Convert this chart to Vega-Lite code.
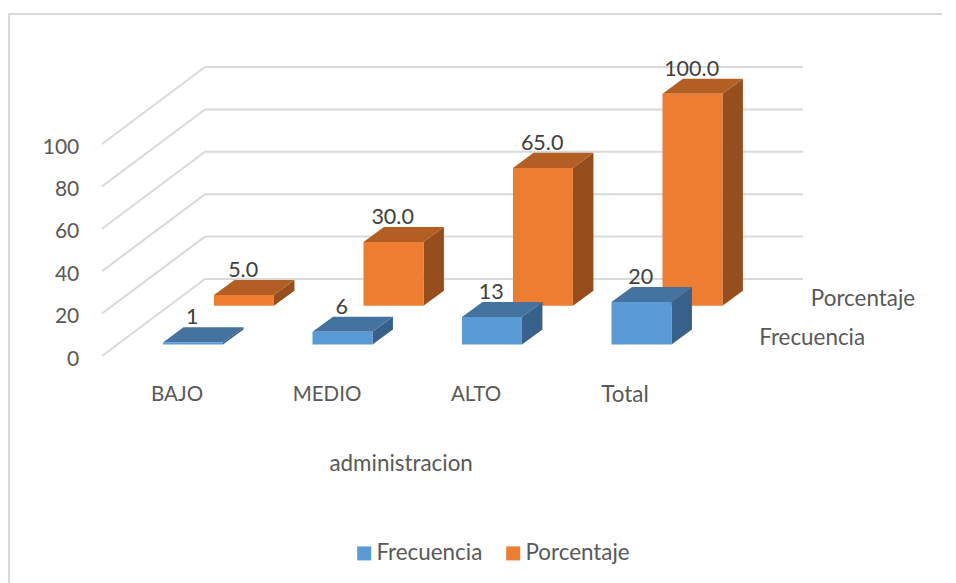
{
  "$schema": "https://vega.github.io/schema/vega-lite/v6.json",
  "width": 956,
  "height": 583,
  "autosize": {"type": "none"},
  "padding": 0,
  "background": "white",
  "view": {"stroke": null},
  "config": {"font": "Lato", "text": {"font": "Lato"}},
  "datasets": {
    "bars": [
      {"categoria": "BAJO", "idx": 0, "serie": "Frecuencia", "z": 0, "valor": 1, "rotulo": "1"},
      {"categoria": "MEDIO", "idx": 1, "serie": "Frecuencia", "z": 0, "valor": 6, "rotulo": "6"},
      {"categoria": "ALTO", "idx": 2, "serie": "Frecuencia", "z": 0, "valor": 13, "rotulo": "13"},
      {"categoria": "Total", "idx": 3, "serie": "Frecuencia", "z": 0, "valor": 20, "rotulo": "20"},
      {"categoria": "BAJO", "idx": 0, "serie": "Porcentaje", "z": 1, "valor": 5, "rotulo": "5.0"},
      {"categoria": "MEDIO", "idx": 1, "serie": "Porcentaje", "z": 1, "valor": 30, "rotulo": "30.0"},
      {"categoria": "ALTO", "idx": 2, "serie": "Porcentaje", "z": 1, "valor": 65, "rotulo": "65.0"},
      {"categoria": "Total", "idx": 3, "serie": "Porcentaje", "z": 1, "valor": 100, "rotulo": "100.0"}
    ],
    "grid": [{"nivel": 0}, {"nivel": 20}, {"nivel": 40}, {"nivel": 60}, {"nivel": 80}, {"nivel": 100}]
  },
  "layer": [
    {
      "description": "Chart frame: top and left edges",
      "data": {"values": [{"u": -1.035, "v": 155.9}, {"u": 5.21, "v": 155.9}]},
      "mark": {"type": "line", "stroke": "#D9D9D9", "strokeWidth": 2},
      "encoding": {
        "x": {"field": "u", "type": "quantitative", "scale": {"domain": [-1.0903, 5.3043], "nice": false, "zero": false}, "axis": null},
        "y": {"field": "v", "type": "quantitative", "scale": {"domain": [-112.5, 162.5], "nice": false, "zero": false}, "axis": null}
      }
    },
    {
      "data": {"values": [{"u": -1.03, "v": 155.9}, {"u": -1.03, "v": -112.5}]},
      "mark": {"type": "line", "stroke": "#D9D9D9", "strokeWidth": 2},
      "encoding": {
        "x": {"field": "u", "type": "quantitative"},
        "y": {"field": "v", "type": "quantitative", "sort": null},
        "order": {"field": "v", "sort": "descending"}
      }
    },
    {
      "description": "Side wall and back wall gridlines, one polyline per level",
      "data": {"name": "grid"},
      "transform": [
        {"calculate": "[[-0.408,-5.4,0],[0.281,30.9,1],[4.281,30.9,2]]", "as": "p"},
        {"flatten": ["p"]},
        {"calculate": "datum.p[0]", "as": "u"},
        {"calculate": "datum.nivel + datum.p[1]", "as": "v"},
        {"calculate": "datum.p[2]", "as": "o"}
      ],
      "mark": {"type": "line", "stroke": "#D9D9D9", "strokeWidth": 2},
      "encoding": {
        "x": {"field": "u", "type": "quantitative"},
        "y": {"field": "v", "type": "quantitative"},
        "detail": {"field": "nivel"},
        "order": {"field": "o"}
      }
    },
    {
      "description": "Value axis labels on the front end of the gridlines",
      "data": {"name": "grid"},
      "transform": [
        {"calculate": "-0.56", "as": "u"},
        {"calculate": "datum.nivel - 7.1", "as": "v"}
      ],
      "mark": {"type": "text", "align": "right", "baseline": "middle", "fontSize": 21, "fill": "#595959"},
      "encoding": {
        "x": {"field": "u", "type": "quantitative"},
        "y": {"field": "v", "type": "quantitative"},
        "text": {"field": "nivel"}
      }
    },
    {
      "description": "Orange series: side, top and front faces",
      "data": {"name": "bars"},
      "transform": [
        {"filter": "datum.z == 1"},
        {"calculate": "[0,1]", "as": "t"},
        {"flatten": ["t"]},
        {"calculate": "datum.idx + 0.341 + 0.401 + 0.137 * datum.t", "as": "u"},
        {"calculate": "18.3 + datum.valor + 7.1 * datum.t", "as": "v"},
        {"calculate": "18.3 + 7.1 * datum.t", "as": "v0"}
      ],
      "mark": {"type": "area", "fill": "#964F1C", "stroke": null},
      "encoding": {
        "x": {"field": "u", "type": "quantitative"},
        "y": {"field": "v", "type": "quantitative", "stack": null},
        "y2": {"field": "v0"},
        "detail": {"field": "idx"}
      }
    },
    {
      "data": {"name": "bars"},
      "transform": [
        {"filter": "datum.z == 1"},
        {"calculate": "[0,1]", "as": "t"},
        {"flatten": ["t"]},
        {"calculate": "18.3 + datum.valor + 7.1 * datum.t", "as": "v"},
        {"calculate": "datum.idx + 0.341 + 0.137 * datum.t", "as": "u"},
        {"calculate": "datum.u + 0.401", "as": "u2"}
      ],
      "mark": {"type": "area", "orient": "horizontal", "fill": "#B35F24", "stroke": null},
      "encoding": {
        "y": {"field": "v", "type": "quantitative"},
        "x": {"field": "u", "type": "quantitative", "stack": null},
        "x2": {"field": "u2"},
        "detail": {"field": "idx"}
      }
    },
    {
      "data": {"name": "bars"},
      "transform": [
        {"filter": "datum.z == 1"},
        {"calculate": "datum.idx + 0.341", "as": "u"},
        {"calculate": "datum.u + 0.401", "as": "u2"},
        {"calculate": "18.3", "as": "v0"},
        {"calculate": "18.3 + datum.valor", "as": "v"}
      ],
      "mark": {"type": "rect"},
      "encoding": {
        "x": {"field": "u", "type": "quantitative"},
        "x2": {"field": "u2"},
        "y": {"field": "v0", "type": "quantitative"},
        "y2": {"field": "v"},
        "color": {
          "field": "serie",
          "type": "nominal",
          "scale": {"domain": ["Frecuencia", "Porcentaje"], "range": ["#5B9BD5", "#ED7D31"]},
          "legend": {
            "title": null,
            "orient": "none",
            "legendX": 353,
            "legendY": 542,
            "direction": "horizontal",
            "symbolType": "square",
            "symbolSize": 196,
            "symbolStrokeWidth": 0,
            "labelFontSize": 22.4,
            "labelColor": "#595959",
            "labelFont": "Lato",
            "labelOffset": 1,
            "columnPadding": 19
          }
        }
      }
    },
    {
      "description": "Blue series: side, top and front faces",
      "data": {"name": "bars"},
      "transform": [
        {"filter": "datum.z == 0"},
        {"calculate": "[0,1]", "as": "t"},
        {"flatten": ["t"]},
        {"calculate": "datum.idx + 0.401 + 0.137 * datum.t", "as": "u"},
        {"calculate": "datum.valor + 7.1 * datum.t", "as": "v"},
        {"calculate": "7.1 * datum.t", "as": "v0"}
      ],
      "mark": {"type": "area", "fill": "#37618A", "stroke": null},
      "encoding": {
        "x": {"field": "u", "type": "quantitative"},
        "y": {"field": "v", "type": "quantitative", "stack": null},
        "y2": {"field": "v0"},
        "detail": {"field": "idx"}
      }
    },
    {
      "data": {"name": "bars"},
      "transform": [
        {"filter": "datum.z == 0"},
        {"calculate": "[0,1]", "as": "t"},
        {"flatten": ["t"]},
        {"calculate": "datum.valor + 7.1 * datum.t", "as": "v"},
        {"calculate": "datum.idx + 0.137 * datum.t", "as": "u"},
        {"calculate": "datum.u + 0.401", "as": "u2"}
      ],
      "mark": {"type": "area", "orient": "horizontal", "fill": "#44739F", "stroke": null},
      "encoding": {
        "y": {"field": "v", "type": "quantitative"},
        "x": {"field": "u", "type": "quantitative", "stack": null},
        "x2": {"field": "u2"},
        "detail": {"field": "idx"}
      }
    },
    {
      "data": {"name": "bars"},
      "transform": [
        {"filter": "datum.z == 0"},
        {"calculate": "datum.idx + 0.401", "as": "u2"},
        {"calculate": "0", "as": "v0"}
      ],
      "mark": {"type": "rect"},
      "encoding": {
        "x": {"field": "idx", "type": "quantitative"},
        "x2": {"field": "u2"},
        "y": {"field": "v0", "type": "quantitative"},
        "y2": {"field": "valor"},
        "color": {"field": "serie", "type": "nominal"}
      }
    },
    {
      "description": "Value labels above each bar",
      "data": {"name": "bars"},
      "transform": [
        {"calculate": "datum.idx + 0.2 + 0.341 * datum.z - 0.005", "as": "u"},
        {"calculate": "datum.valor + 18.3 * datum.z + 7.1 + 4.3", "as": "v"}
      ],
      "mark": {"type": "text", "align": "center", "baseline": "middle", "fontSize": 21.5, "fill": "#404040"},
      "encoding": {
        "x": {"field": "u", "type": "quantitative"},
        "y": {"field": "v", "type": "quantitative"},
        "text": {"field": "rotulo"}
      }
    },
    {
      "description": "Upper-case category labels",
      "data": {"values": [
        {"u": 0.094, "v": -23.8, "t": "BAJO"},
        {"u": 1.097, "v": -23.8, "t": "MEDIO"},
        {"u": 2.094, "v": -23.8, "t": "ALTO"}
      ]},
      "mark": {"type": "text", "align": "center", "baseline": "middle", "fontSize": 20.5, "fill": "#595959"},
      "encoding": {
        "x": {"field": "u", "type": "quantitative"},
        "y": {"field": "v", "type": "quantitative"},
        "text": {"field": "t"}
      }
    },
    {
      "description": "Mixed-case labels: last category, depth series and axis title",
      "data": {"values": [
        {"u": 3.09, "v": -23.8, "t": "Total"},
        {"u": 4.682, "v": 21.4, "t": "Porcentaje"},
        {"u": 4.342, "v": 3, "t": "Frecuencia"},
        {"u": 1.593, "v": -56.4, "t": "administracion"}
      ]},
      "mark": {"type": "text", "align": "center", "baseline": "middle", "fontSize": 22.4, "fill": "#595959"},
      "encoding": {
        "x": {"field": "u", "type": "quantitative"},
        "y": {"field": "v", "type": "quantitative"},
        "text": {"field": "t"}
      }
    }
  ]
}
